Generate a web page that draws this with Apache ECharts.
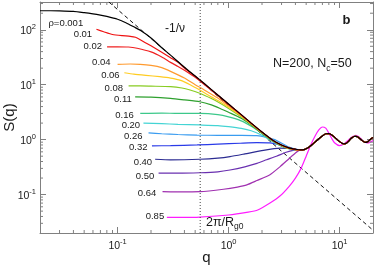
<!DOCTYPE html>
<html><head><meta charset="utf-8">
<script src="https://cdn.jsdelivr.net/npm/echarts@6/dist/echarts.min.js"></script>
<style>html,body{margin:0;padding:0;background:#fff}#c{width:374px;height:266px}</style>
</head><body><div id="c"></div><script>
// ---- data (q, S(q)) ----
const rho001 = [[0.02,222],[0.025,222],[0.03,221],[0.04,216],[0.05,205],[0.06,195],[0.07,185],[0.08,175],[0.1,155],[0.12,133],[0.14,113],[0.16,98],[0.2,71],[0.25,47],[0.3,34.5],[0.4,20.8],[0.5,14.4],[0.6,10.6],[0.8,6.5],[1.0,4.45],[1.3,2.85],[1.6,2.0],[2.0,1.38],[2.5,0.98],[3.0,0.80],[3.5,0.71],[4.0,0.67]];
const rho01 = [[0.0645,102],[0.075,92],[0.09,82],[0.11,78],[0.13,76],[0.145,73],[0.16,66],[0.2,51],[0.25,39],[0.3,31],[0.35,25.5],[0.4,20.2],[0.5,14.2],[0.6,10.5],[0.8,6.45],[1.0,4.4],[1.3,2.84],[1.6,1.99],[2.0,1.37],[2.5,0.98],[3.0,0.80],[3.5,0.71],[4.0,0.67]];
const rho02 = [[0.0804,49],[0.1,49],[0.125,48.5],[0.15,46],[0.2,39.5],[0.25,32],[0.3,25.5],[0.35,21.5],[0.4,18.3],[0.5,13.6],[0.6,10.2],[0.8,6.35],[1.0,4.35],[1.3,2.82],[1.6,1.98],[2.0,1.37],[2.5,0.97],[3.0,0.79],[3.5,0.70],[4.0,0.66]];
const rho04 = [[0.1,23.5],[0.13,23.8],[0.16,23.5],[0.2,22.5],[0.25,20.5],[0.3,17.5],[0.4,13.2],[0.5,10.0],[0.6,8.1],[0.8,5.7],[1.0,4.1],[1.3,2.78],[1.6,1.96],[2.0,1.36],[2.5,0.97],[3.0,0.79],[3.5,0.70],[4.0,0.66]];
const rho06 = [[0.115,16.5],[0.14,15.6],[0.18,14.8],[0.24,14.0],[0.3,13.2],[0.37,12.0],[0.45,10.0],[0.55,8.0],[0.7,6.0],[0.85,4.8],[1.0,3.9],[1.3,2.7],[1.6,1.93],[2.0,1.35],[2.5,0.96],[3.0,0.78],[3.5,0.69],[4.0,0.66]];
const rho08 = [[0.1256,9.5],[0.16,9.5],[0.2,9.4],[0.3,9.2],[0.38,8.7],[0.45,8.0],[0.55,7.0],[0.7,5.6],[0.84,4.6],[1.0,3.7],[1.3,2.6],[1.6,1.9],[2.0,1.34],[2.5,0.96],[3.0,0.78],[3.5,0.69],[4.0,0.66]];
const rho11 = [[0.144,6.0],[0.2,5.95],[0.3,5.65],[0.4,5.3],[0.55,4.9],[0.7,4.3],[0.84,3.7],[1.0,3.15],[1.3,2.45],[1.6,1.85],[2.0,1.32],[2.5,0.95],[3.0,0.77],[3.5,0.69],[4.0,0.66]];
const rho16 = [[0.16,3.0],[0.25,3.05],[0.35,3.0],[0.55,3.0],[0.8,2.85],[1.0,2.6],[1.3,2.2],[1.6,1.75],[2.0,1.3],[2.5,0.94],[3.0,0.77],[3.5,0.69],[4.0,0.66]];
const rho20 = [[0.171,2.0],[0.25,1.95],[0.35,1.9],[0.55,1.85],[0.8,1.8],[1.0,1.72],[1.3,1.6],[1.6,1.45],[2.0,1.2],[2.5,0.92],[3.0,0.76],[3.5,0.68],[4.0,0.65]];
const rho26 = [[0.19,1.33],[0.25,1.28],[0.35,1.24],[0.52,1.21],[0.8,1.2],[1.0,1.2],[1.3,1.2],[1.8,1.18],[2.2,1.1],[2.6,1.0],[3.0,0.86],[3.5,0.73],[4.0,0.67]];
const rho32 = [[0.204,0.77],[0.3,0.78],[0.52,0.80],[0.8,0.83],[1.27,0.86],[1.8,0.88],[2.36,0.87],[2.9,0.80],[3.5,0.71],[4.0,0.67]];
const rho40 = [[0.218,0.44],[0.3,0.43],[0.55,0.44],[0.8,0.46],[1.03,0.49],[1.4,0.55],[2.06,0.64],[2.9,0.70],[3.5,0.69],[4.0,0.66]];
const rho50 = [[0.234,0.245],[0.35,0.245],[0.55,0.25],[0.8,0.26],[1.03,0.28],[1.4,0.32],[1.8,0.37],[2.2,0.43],[2.7,0.50],[3.3,0.59],[3.8,0.64]];
const rho64 = [[0.254,0.113],[0.35,0.112],[0.55,0.113],[0.9,0.125],[1.2,0.137],[1.46,0.15],[1.8,0.18],[2.36,0.23],[2.9,0.32],[3.5,0.45],[4.0,0.57]];
const rho85 = [[0.278,0.0386],[0.4,0.0385],[0.55,0.039],[1.0,0.0425],[1.5,0.048],[1.83,0.0524],[2.36,0.07],[2.9,0.094],[3.5,0.14],[4.0,0.2],[4.5,0.3],[5.0,0.5],[5.5,0.8],[6.0,1.15],[6.5,1.5],[7.0,1.70],[7.5,1.62],[8.0,1.32],[8.5,1.05],[9.0,0.88],[10,0.78],[11,0.84],[12,0.98],[13,1.13],[14,1.2],[15,1.12],[16,0.98],[18,0.87],[20,0.96]];
// common large-q tail shared by rho <= 0.64
const tailQ = [4.4,4.8,5.2,5.6,6,6.5,7,7.5,8,8.5,9,9.5,10,10.5,11,11.5,12,12.5,13,13.5,14,14.5,15,16,17,18,19,20];
const tailS = [0.65,0.66,0.71,0.80,0.90,1.04,1.17,1.28,1.29,1.22,1.11,1.00,0.92,0.86,0.84,0.86,0.93,1.02,1.09,1.14,1.15,1.13,1.07,0.96,0.89,0.92,1.02,1.09];
// guide lines
const slopeLine = [[0.0834,320],[20,0.0225]];   // -1/nu
const qRg = [[0.555,0.02],[0.555,320]];         // 2pi/Rg0
const curveNames = ['ρ=0.001','0.01','0.02','0.04','0.06','0.08','0.11','0.16','0.20','0.26','0.32','0.40','0.50','0.64','0.85'];
const curves = [rho001,rho01,rho02,rho04,rho06,rho08,rho11,rho16,rho20,rho26,rho32,rho40,rho50,rho64,rho85];
const XMIN = 0.02, XMAX = 20, YMIN = 0.02, YMAX = 320;

// ---- styles ----
const colors = ['#000000','#ee1111','#f02020','#ff9a2e','#ffcc22','#88cc22','#2ea02e','#3cc88a','#44d4d4','#3a9cf0','#2a3be8','#2c2c92','#6a30b0','#a030b0','#ff1cff'];
const labelIdx = [4,0,0,0,0,0,0,0,0,0,0,0,0,0,0];
const labelDy = [10.5,5,-0.7,-2,2.3,2.3,2.3,1.7,2.3,3.6,1.7,2.7,2.7,1.6,-0.6];
const labelDist = [1,4.3,5,7,4.7,5.6,3.3,6.5,3.3,6,4.4,3,4.3,6.3,2.7];
const FONT = '"Liberation Sans", Arial, Helvetica, sans-serif';
const AXC = '#808080', TXT = '#1a1a1a';

function powLabel(v){
  const l = Math.log10(v), e = Math.round(l);
  if (Math.abs(l - e) > 1e-6) return '';
  return '{b|10}{s|' + e + '}';
}
const powRich = {
  b:{fontSize:10.5, fontFamily:FONT, color:TXT, verticalAlign:'bottom'},
  s:{fontSize:7.5, fontFamily:FONT, color:TXT, verticalAlign:'top', padding:[0,0,6,0]}
};
function minorVals(lo, hi){
  const out = [];
  for (let e = -3; e <= 3; e++) for (let m = 2; m <= 9; m++) {
    const v = m * Math.pow(10, e);
    if (v > lo * 1.0001 && v < hi * 0.9999) out.push(v);
  }
  return out;
}
function axisBase(type){
  return {
    type:'log', logBase:10, splitLine:{show:false},
    axisLine:{show:true, lineStyle:{color:AXC, width:1}},
    axisTick:{show:true, inside:true, length:6, lineStyle:{color:AXC, width:1}},
    minorTick:{show:false}
  };
}

const series = [];
// guide lines under curves
series.push({type:'line', data:slopeLine, symbol:'none', silent:true, z:1,
  lineStyle:{color:'#111', width:1, type:[4,3]}});
series.push({type:'line', data:qRg, symbol:'none', silent:true, z:20,
  lineStyle:{color:'#444', width:1, type:[1,2]}});
// curves: draw 0.85 first, black last
for (let i = curves.length - 1; i >= 0; i--) {
  let pts = curves[i];
  if (i !== 14) pts = pts.concat(tailQ.map((q, k) => [q, tailS[k]]));
  const data = pts.map((p, k) => k === labelIdx[i] ? {
    value:p,
    label:{show:true, formatter:curveNames[i], position:'left', distance:labelDist[i],
      offset:[0, labelDy[i]], fontSize:9.5, fontFamily:FONT, color:TXT}
  } : p);
  series.push({type:'line', name:curveNames[i], data, symbol:'circle', symbolSize:0,
    showSymbol:true, showAllSymbol:true, smooth:0.2, silent:true, z:3,
    lineStyle:{color:colors[i], width:1.2}, itemStyle:{color:colors[i]}});
}
// minor ticks (log positions) through the axis scales
series.push({type:'custom', coordinateSystem:'cartesian2d', silent:true, clip:false, z:6,
  data:minorVals(XMIN, XMAX).map(v => [v, 1]), encode:{x:0, y:1},
  renderItem(params, api){
    const cs = params.coordSys, x = api.coord([api.value(0), 1])[0];
    const b = cs.y + cs.height, t = cs.y;
    return {type:'group', children:[
      {type:'line', shape:{x1:x, y1:b, x2:x, y2:b-3}, style:{stroke:AXC, lineWidth:1}},
      {type:'line', shape:{x1:x, y1:t, x2:x, y2:t+3}, style:{stroke:AXC, lineWidth:1}}]};
  }});
series.push({type:'custom', coordinateSystem:'cartesian2d', silent:true, clip:false, z:6,
  data:minorVals(YMIN, YMAX).map(v => [1, v]), encode:{x:0, y:1},
  renderItem(params, api){
    const cs = params.coordSys, y = api.coord([1, api.value(1)])[1];
    const l = cs.x, r = cs.x + cs.width;
    return {type:'group', children:[
      {type:'line', shape:{x1:l, y1:y, x2:l+3, y2:y}, style:{stroke:AXC, lineWidth:1}},
      {type:'line', shape:{x1:r, y1:y, x2:r-3, y2:y}, style:{stroke:AXC, lineWidth:1}}]};
  }});

const chart = echarts.init(document.getElementById('c'), null, {renderer:'canvas'});
chart.setOption({
  animation:false,
  backgroundColor:'#ffffff',
  grid:{left:40, right:1, top:2, bottom:33, containLabel:false, outerBoundsMode:'none'},
  xAxis:[
    Object.assign(axisBase(), {position:'bottom', min:XMIN, max:XMAX,
      name:'q', nameLocation:'middle', nameGap:17, nameMoveOverlap:false,
      nameTextStyle:{fontSize:15, fontFamily:FONT, color:TXT},
      axisLabel:{show:true, margin:5, formatter:powLabel, rich:powRich, color:TXT, fontFamily:FONT, hideOverlap:false}}),
    Object.assign(axisBase(), {position:'top', min:XMIN, max:XMAX, axisLabel:{show:false}})
  ],
  yAxis:[
    Object.assign(axisBase(), {position:'left', min:YMIN, max:YMAX,
      name:'S(q)', nameLocation:'middle', nameGap:23, nameMoveOverlap:false,
      nameTextStyle:{fontSize:15, fontFamily:FONT, color:TXT},
      axisLabel:{show:true, margin:4, formatter:powLabel, rich:powRich, color:TXT, fontFamily:FONT, hideOverlap:false}}),
    Object.assign(axisBase(), {position:'right', min:YMIN, max:YMAX, axisLabel:{show:false}})
  ],
  series,
  graphic:[
    {type:'text', x:165, y:28.3, silent:true, z:30,
      style:{text:'-1/ν', font:'12px ' + FONT, fill:TXT, align:'left', verticalAlign:'middle'}},
    {type:'text', x:342.5, y:20.7, silent:true, z:30,
      style:{text:'b', font:'bold 13px ' + FONT, fill:TXT, align:'left', verticalAlign:'middle'}},
    {type:'text', x:273, y:57, silent:true, z:30,
      style:{text:'{n|N=200, N}{c|c}{n|=50}', align:'left', verticalAlign:'top',
        rich:{n:{fontSize:12.5, fontFamily:FONT, fill:TXT, verticalAlign:'top'},
              c:{fontSize:8.5, fontFamily:FONT, fill:TXT, verticalAlign:'bottom', padding:[7,0,0,0]}}}},
    {type:'text', x:206, y:216, silent:true, z:30,
      style:{text:'{n|2π/R}{c|g0}', align:'left', verticalAlign:'top',
        rich:{n:{fontSize:12.5, fontFamily:FONT, fill:TXT, verticalAlign:'top'},
              c:{fontSize:8.5, fontFamily:FONT, fill:TXT, verticalAlign:'bottom', padding:[6,0,0,0]}}}}
  ]
});
</script></body></html>
